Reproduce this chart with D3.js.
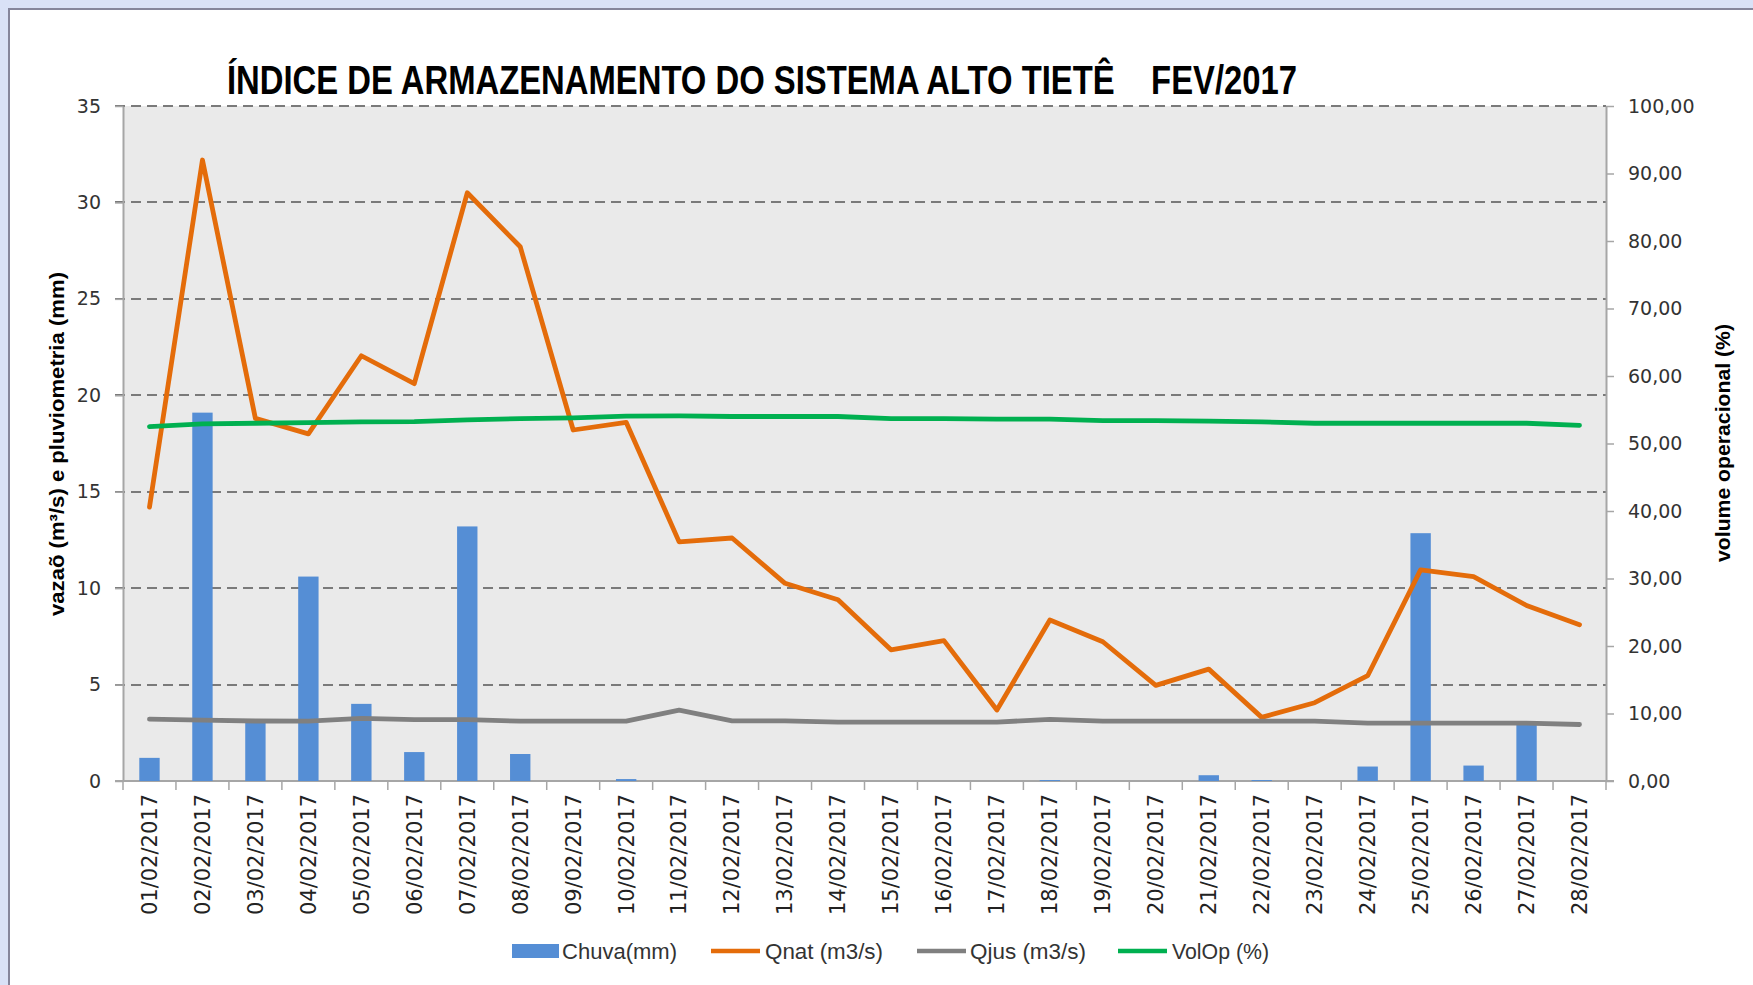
<!DOCTYPE html>
<html><head><meta charset="utf-8">
<script src="https://cdn.jsdelivr.net/npm/d3@7"></script>
<style>body{margin:0;background:#d9e1f7;} svg{display:block}</style>
</head><body><svg id="c" width="1753" height="985"></svg>
<script>
const dates = ["01/02/2017","02/02/2017","03/02/2017","04/02/2017","05/02/2017","06/02/2017","07/02/2017",
  "08/02/2017","09/02/2017","10/02/2017","11/02/2017","12/02/2017","13/02/2017","14/02/2017",
  "15/02/2017","16/02/2017","17/02/2017","18/02/2017","19/02/2017","20/02/2017","21/02/2017",
  "22/02/2017","23/02/2017","24/02/2017","25/02/2017","26/02/2017","27/02/2017","28/02/2017"];
const chuva = [1.2, 19.1, 3.1, 10.6, 4.0, 1.5, 13.2, 1.4, 0, 0.1, 0, 0, 0, 0,
  0, 0, 0, 0.05, 0, 0, 0.3, 0.05, 0, 0.75, 12.85, 0.8, 3.0, 0];
const qnat = [14.2, 32.2, 18.8, 18.0, 22.05, 20.6, 30.5, 27.7, 18.2, 18.6, 12.4, 12.6, 10.25, 9.4,
  6.8, 7.28, 3.68, 8.35, 7.22, 4.96, 5.8, 3.3, 4.06, 5.46, 10.95, 10.6, 9.1, 8.1];
const qjus = [3.21, 3.16, 3.11, 3.1, 3.25, 3.18, 3.18, 3.1, 3.1, 3.1, 3.68, 3.12, 3.12, 3.05,
  3.05, 3.05, 3.05, 3.2, 3.1, 3.1, 3.1, 3.1, 3.1, 3.0, 3.0, 3.0, 3.0, 2.93];
const volop = [52.5, 52.9, 53.0, 53.1, 53.2, 53.25, 53.5, 53.7, 53.8, 54.05, 54.1, 54.0, 54.0, 54.0,
  53.7, 53.7, 53.6, 53.6, 53.4, 53.4, 53.3, 53.2, 53.0, 53.0, 53.0, 53.0, 53.0, 52.7];
const leftTicks = [0, 5, 10, 15, 20, 25, 30, 35];
const rightTicks = [0, 10, 20, 30, 40, 50, 60, 70, 80, 90, 100];
const seriesNames = ["Chuva(mm)", "Qnat (m3/s)", "Qjus (m3/s)", "VolOp (%)"];
const titleText = "ÍNDICE DE ARMAZENAMENTO DO SISTEMA ALTO TIETÊ    FEV/2017";
const leftLabel = "vazaõ (m³/s) e pluviometria (mm)";
const rightLabel = "volume operacional (%)";

const svg = d3.select("#c");
const L = 123, R = 1606, T = 106, B = 781;
const colors = {bar: "#558ed5", qnat: "#e46c0a", qjus: "#808080", vol: "#00b050"};
const axisColor = "#a6a6a6";

// frame
svg.append("rect").attr("x", 9).attr("y", 9).attr("width", 1800).attr("height", 1000)
  .attr("fill", "#ffffff").attr("stroke", "#85859c").attr("stroke-width", 2);

const x = d3.scaleBand().domain(dates).range([L, R]).paddingInner(0).paddingOuter(0);
const yL = d3.scaleLinear().domain([0, 35]).range([B, T]);
const yR = d3.scaleLinear().domain([0, 100]).range([B, T]);

svg.append("rect").attr("x", L).attr("y", T).attr("width", R - L).attr("height", B - T).attr("fill", "#eaeaea");

// gridlines
svg.append("g").selectAll("line").data(leftTicks.filter(d => d > 0)).join("line")
  .attr("x1", L - 8).attr("x2", R).attr("y1", d => Math.round(yL(d))).attr("y2", d => Math.round(yL(d)))
  .attr("stroke", "#7a7a7a").attr("stroke-width", 2).attr("stroke-dasharray", "10,6");

// left axis
const axL = svg.append("g").attr("transform", `translate(${L},0)`)
  .call(d3.axisLeft(yL).tickValues(leftTicks).tickSize(8).tickSizeOuter(0).tickPadding(14));
axL.select(".domain").attr("stroke", axisColor).attr("stroke-width", 2);
axL.selectAll(".tick line").attr("stroke", axisColor).attr("stroke-width", 1.5);
axL.selectAll("text").attr("font-family", "DejaVu Sans, Verdana, sans-serif").attr("font-size", 19).attr("fill", "#333");

// right axis
const fmtR = d => d3.format(".2f")(d).replace(".", ",");
const axR = svg.append("g").attr("transform", `translate(${R},0)`)
  .call(d3.axisRight(yR).tickValues(rightTicks).tickFormat(fmtR).tickSize(8).tickSizeOuter(0).tickPadding(14));
axR.select(".domain").attr("stroke", axisColor).attr("stroke-width", 2);
axR.selectAll(".tick line").attr("stroke", axisColor).attr("stroke-width", 1.5);
axR.selectAll("text").attr("font-family", "DejaVu Sans, Verdana, sans-serif").attr("font-size", 19).attr("fill", "#333");

// bottom axis
const axB = svg.append("g").attr("transform", `translate(0,${B})`)
  .call(d3.axisBottom(x).tickSize(0).tickSizeOuter(0).tickPadding(0));
axB.select(".domain").remove();
axB.selectAll("text")
  .attr("font-family", "DejaVu Sans, Verdana, sans-serif").attr("font-size", 21).attr("fill", "#222")
  .attr("transform", "rotate(-90)").attr("text-anchor", "end").attr("x", -13).attr("y", 0).attr("dy", "0.35em");
svg.append("line").attr("x1", L - 8).attr("x2", R + 8).attr("y1", B).attr("y2", B)
  .attr("stroke", axisColor).attr("stroke-width", 2);
const bounds = dates.map(d => x(d)).concat([x(dates[dates.length - 1]) + x.bandwidth()]);
svg.append("g").selectAll("line").data(bounds).join("line")
  .attr("x1", d => d).attr("x2", d => d).attr("y1", B).attr("y2", B + 9)
  .attr("stroke", axisColor).attr("stroke-width", 1.5);

// bars
const bw = x.bandwidth() / 2.6;
svg.append("g").selectAll("rect").data(chuva).join("rect")
  .attr("x", (d, i) => x(dates[i]) + x.bandwidth() / 2 - bw / 2)
  .attr("y", d => yL(d)).attr("width", bw).attr("height", d => B - yL(d))
  .attr("fill", colors.bar);

// lines
const cx = i => x(dates[i]) + x.bandwidth() / 2;
const lineL = d3.line().x((d, i) => cx(i)).y(d => yL(d));
const lineR = d3.line().x((d, i) => cx(i)).y(d => yR(d));
[[qnat, lineL, colors.qnat], [qjus, lineL, colors.qjus], [volop, lineR, colors.vol]].forEach(([data, gen, c]) => {
  svg.append("path").attr("d", gen(data)).attr("fill", "none").attr("stroke", c)
    .attr("stroke-width", 4.8).attr("stroke-linejoin", "round").attr("stroke-linecap", "round");
});

// title
svg.append("text").attr("x", 227).attr("y", 94).attr("xml:space", "preserve").style("white-space", "pre")
  .attr("font-family", "Liberation Sans Narrow, Arial Narrow, sans-serif").attr("font-weight", "bold")
  .attr("font-size", 40).attr("textLength", 1070).attr("lengthAdjust", "spacingAndGlyphs")
  .attr("fill", "#000").text(titleText);

// axis titles
svg.append("text").attr("transform", "translate(64,444) rotate(-90)").attr("text-anchor", "middle")
  .attr("font-family", "Liberation Sans Narrow, Arial Narrow, sans-serif").attr("font-weight", "bold")
  .attr("font-size", 21).attr("textLength", 344).attr("lengthAdjust", "spacingAndGlyphs")
  .attr("fill", "#000").text(leftLabel);
svg.append("text").attr("transform", "translate(1730,443) rotate(-90)").attr("text-anchor", "middle")
  .attr("font-family", "Liberation Sans Narrow, Arial Narrow, sans-serif").attr("font-weight", "bold")
  .attr("font-size", 21).attr("textLength", 238).attr("lengthAdjust", "spacingAndGlyphs")
  .attr("fill", "#000").text(rightLabel);

// legend
const legY = 951;
const legItems = [
  {name: seriesNames[0], c: colors.bar, type: "rect", sx: 512, tx: 562, tl: 115},
  {name: seriesNames[1], c: colors.qnat, type: "line", sx: 711, tx: 765, tl: 118},
  {name: seriesNames[2], c: colors.qjus, type: "line", sx: 917, tx: 970, tl: 116},
  {name: seriesNames[3], c: colors.vol, type: "line", sx: 1118, tx: 1172, tl: 97}
];
const lg = svg.append("g");
legItems.forEach(it => {
  if (it.type === "rect") {
    lg.append("rect").attr("x", it.sx).attr("y", legY - 7).attr("width", 47).attr("height", 14).attr("fill", it.c);
  } else {
    lg.append("line").attr("x1", it.sx).attr("x2", it.sx + 49).attr("y1", legY).attr("y2", legY)
      .attr("stroke", it.c).attr("stroke-width", 4.5);
  }
  lg.append("text").attr("x", it.tx).attr("y", legY).attr("dy", "0.35em")
    .attr("font-family", "Liberation Sans Narrow, Arial Narrow, sans-serif").attr("font-size", 22)
    .attr("textLength", it.tl).attr("lengthAdjust", "spacingAndGlyphs")
    .attr("fill", "#333").text(it.name);
});
</script></body></html>
